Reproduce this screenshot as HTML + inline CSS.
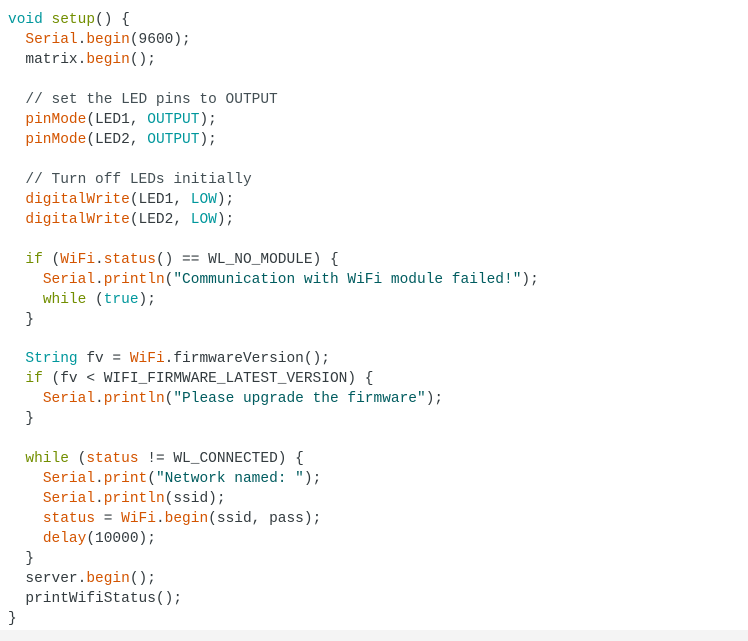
<!DOCTYPE html>
<html><head><meta charset="utf-8"><style>
body{margin:0;width:748px;height:641px;background:#fff;position:relative;overflow:hidden}
pre{position:absolute;left:8px;top:11px;margin:0;font-family:"Liberation Mono",monospace;font-size:14.5px;line-height:19.97px;color:#333b3f}
.k{color:#00979c}.f{color:#d35400}.o{color:#728e00}.s{color:#005c5f}.c{color:#434f54}
.bar{position:absolute;left:0;top:630px;width:748px;height:11px;background:#f4f4f4}
</style></head><body>
<pre><span class="k">void</span> <span class="o">setup</span>() {
  <span class="f">Serial</span>.<span class="f">begin</span>(9600);
  matrix.<span class="f">begin</span>();

  <span class="c">// set the LED pins to OUTPUT</span>
  <span class="f">pinMode</span>(LED1, <span class="k">OUTPUT</span>);
  <span class="f">pinMode</span>(LED2, <span class="k">OUTPUT</span>);

  <span class="c">// Turn off LEDs initially</span>
  <span class="f">digitalWrite</span>(LED1, <span class="k">LOW</span>);
  <span class="f">digitalWrite</span>(LED2, <span class="k">LOW</span>);

  <span class="o">if</span> (<span class="f">WiFi</span>.<span class="f">status</span>() == WL_NO_MODULE) {
    <span class="f">Serial</span>.<span class="f">println</span>(<span class="s">"Communication with WiFi module failed!"</span>);
    <span class="o">while</span> (<span class="k">true</span>);
  }

  <span class="k">String</span> fv = <span class="f">WiFi</span>.firmwareVersion();
  <span class="o">if</span> (fv &lt; WIFI_FIRMWARE_LATEST_VERSION) {
    <span class="f">Serial</span>.<span class="f">println</span>(<span class="s">"Please upgrade the firmware"</span>);
  }

  <span class="o">while</span> (<span class="f">status</span> != WL_CONNECTED) {
    <span class="f">Serial</span>.<span class="f">print</span>(<span class="s">"Network named: "</span>);
    <span class="f">Serial</span>.<span class="f">println</span>(ssid);
    <span class="f">status</span> = <span class="f">WiFi</span>.<span class="f">begin</span>(ssid, pass);
    <span class="f">delay</span>(10000);
  }
  server.<span class="f">begin</span>();
  printWifiStatus();
}</pre>
<div class="bar"></div>
</body></html>
